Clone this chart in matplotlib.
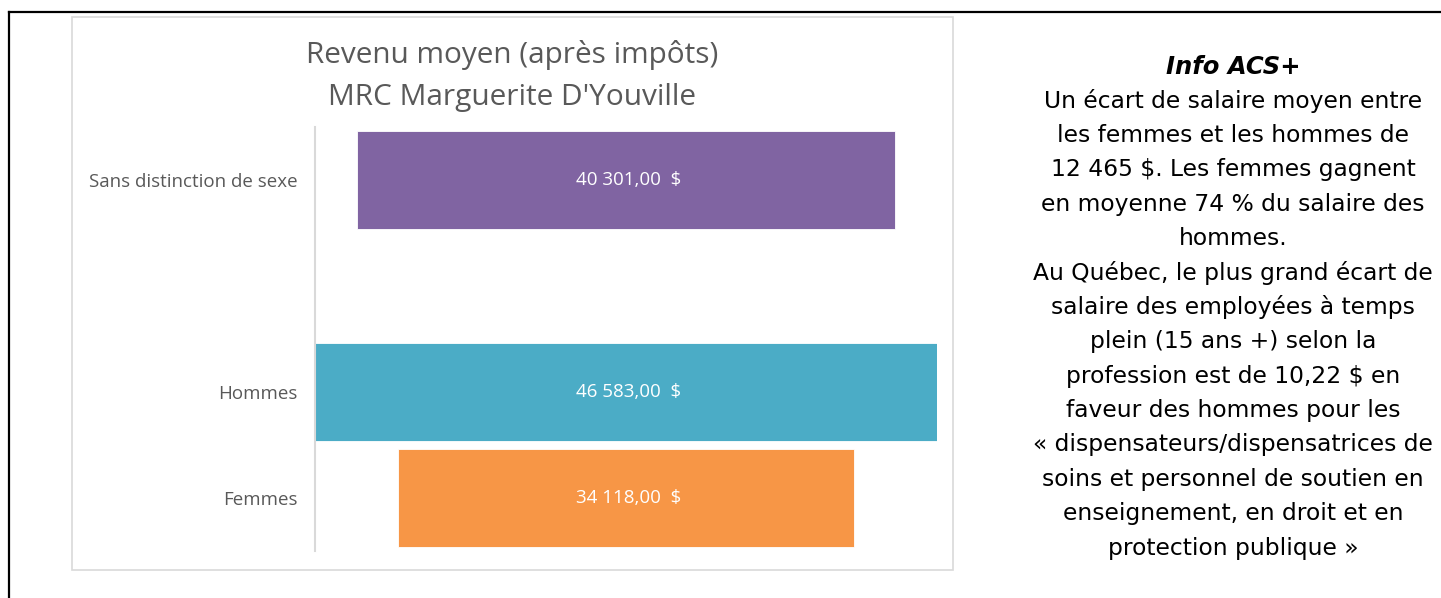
import matplotlib.pyplot as plt
from matplotlib.lines import Line2D
from matplotlib.patches import Rectangle

# Data (bars centred like a funnel)
categories = ["Femmes", "Hommes", "", "Sans distinction de sexe"]
values = [34118.00, 46583.00, 0.0, 40301.00]
colors = ["#F79646", "#4BACC6", "#FFFFFF", "#8064A2"]

info_title = "Info ACS+"
info_lines = [
    "Un écart de salaire moyen entre",
    "les femmes et les hommes de",
    "12 465 $. Les femmes gagnent",
    "en moyenne 74 % du salaire des",
    "hommes.",
    "Au Québec, le plus grand écart de",
    "salaire des employées à temps",
    "plein (15 ans +) selon la",
    "profession est de 10,22 $ en",
    "faveur des hommes pour les",
    "« dispensateurs/dispensatrices de",
    "soins et personnel de soutien en",
    "enseignement, en droit et en",
    "protection publique »",
]

W, H = 1441, 598
fig = plt.figure(figsize=(W / 100, H / 100), dpi=100)
fig.patch.set_facecolor("white")


def fx(px):
    return px / W


def fy(py):
    return 1 - py / H


# outer black frame (runs off the right and bottom of the image)
fig.add_artist(Line2D([fx(9), 1.01], [fy(12), fy(12)], color="black", lw=1.6,
                      transform=fig.transFigure))
fig.add_artist(Line2D([fx(9), fx(9)], [fy(12), -0.01], color="black", lw=1.6,
                      transform=fig.transFigure))

# chart area border
fig.add_artist(Rectangle((fx(72), fy(570)), fx(953) - fx(72), fy(17) - fy(570),
                         transform=fig.transFigure, fill=False,
                         edgecolor="#d9d9d9", lw=1.2))

ax = fig.add_axes([fx(315), fy(551), fx(937) - fx(315), fy(127) - fy(551)])
vmax = max(values)
ypos = list(range(len(categories)))
lefts = [-v / 2 for v in values]
ax.barh(ypos, values, left=lefts, height=0.93, color=colors,
        edgecolor="white", linewidth=0.6)
for y, v in zip(ypos, values):
    if v > 0:
        lbl = f"{v:,.2f}".replace(",", " ").replace(".", ",") + "  $"
        ax.text(vmax * 0.004, y, lbl, ha="center", va="center", color="white",
                fontsize=13.5, family="Open Sans")

ax.set_xlim(-vmax / 2, vmax / 2)
ax.set_ylim(-0.5, len(categories) - 0.5)
ax.set_yticks(ypos)
ax.set_yticklabels(categories, fontsize=13.5, color="#595959", family="Open Sans")
ax.tick_params(axis="y", length=0, pad=12.5)
ax.set_xticks([])
for s in ["top", "right", "bottom"]:
    ax.spines[s].set_visible(False)
ax.spines["left"].set_color("#d9d9d9")
ax.spines["left"].set_linewidth(1.5)
ax.set_facecolor("none")

# title
fig.text(fx(512), fy(55), "Revenu moyen (après impôts)", ha="center", va="center",
         fontsize=21.4, color="#595959", family="Open Sans")
fig.text(fx(512), fy(97), "MRC Marguerite D'Youville", ha="center", va="center",
         fontsize=21.4, color="#595959", family="Open Sans")

# side note
cx = fx(1233)
fig.text(cx, fy(67), info_title, ha="center", va="center", fontsize=17.5,
         fontweight="bold", fontstyle="italic", color="black", family="DejaVu Sans")
for i, line in enumerate(info_lines):
    fig.text(cx, fy(101 + i * 34.4), line, ha="center", va="center", fontsize=16.8,
             color="black", family="DejaVu Sans")

fig.savefig("out.png", dpi=100)
